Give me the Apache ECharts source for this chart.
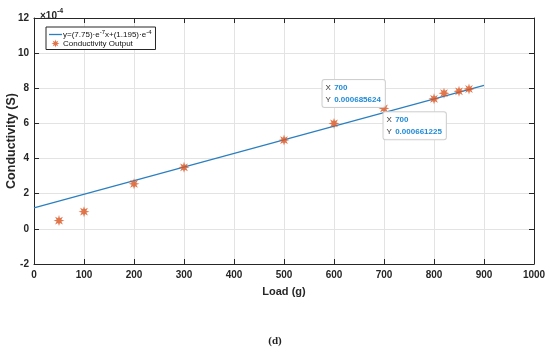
<!DOCTYPE html>
<html><head><meta charset="utf-8">
<script src="https://cdn.jsdelivr.net/npm/echarts@6/dist/echarts.min.js"></script>
<style>html,body{margin:0;padding:0;background:#fff}#c{width:550px;height:357px}</style>
</head><body><div id="c"></div>
<script>
// Data (conductivity in units of 1e-4 S)
var loads = [50, 100, 200, 300, 500, 600, 700, 800, 820, 850, 870];
var conductivity = [0.47, 0.98, 2.56, 3.5, 5.05, 6.0, 6.856, 7.4, 7.72, 7.83, 7.96];
var fitX = [0, 900];
var fitY = [1.195, 8.17];
var tipX = [700, 700];
var tipY = [0.000685624, 0.000661225];
var xTicks = [0, 100, 200, 300, 400, 500, 600, 700, 800, 900, 1000];
var yTicks = [-2, 0, 2, 4, 6, 8, 10, 12];
var fitName = 'y=(7.75)·e-7x+(1.195)·e-4';
var scatterName = 'Conductivity Output';

// asterisk-like burst symbol
function burst() {
  var pts = [], n = 8, R = 10, r = 4.6;
  for (var i = 0; i < n * 2; i++) {
    var a = Math.PI * i / n - Math.PI / 2;
    var rad = i % 2 === 0 ? R : r;
    pts.push((10 + rad * Math.cos(a)).toFixed(2) + ',' + (10 + rad * Math.sin(a)).toFixed(2));
  }
  return 'path://M' + pts.join('L') + 'Z';
}
var star = burst();
var FONT = 'Liberation Sans, Arial, sans-serif';
var AX = '#262626';

function tipLabel(xv, yv) {
  return '{k|X} {v|' + xv + '}\n{k|Y} {v|' + yv + '}';
}
var tipRich = {
  k: { color: '#333', fontSize: 8, fontFamily: FONT, lineHeight: 11 },
  v: { color: '#1f8ad6', fontSize: 8, fontWeight: 'bold', fontFamily: FONT, lineHeight: 11 }
};

var chart = echarts.init(document.getElementById('c'));
var axisCommon = {
  axisLine: { show: true, onZero: false, lineStyle: { color: AX, width: 1 } },
  axisTick: { show: true, inside: true, length: 5, lineStyle: { color: AX } }
};
chart.setOption({
  animation: false,
  backgroundColor: '#fff',
  grid: { left: 34, right: 16, top: 18, bottom: 93, containLabel: false, outerBoundsMode: 'none' },
  title: [{
    text: '(d)', left: 'center', top: 331,
    textStyle: { fontFamily: 'Liberation Serif, serif', fontWeight: 'bold', fontSize: 11, color: '#222' }
  }, {
    text: '{a|×10}{b|-4}', left: 35, top: 3,
    textStyle: { rich: {
      a: { fontFamily: FONT, fontSize: 10, color: AX, verticalAlign: 'bottom' },
      b: { fontFamily: FONT, fontSize: 7, color: AX, padding: [0, 0, 6, 0] }
    } }
  }],
  legend: {
    left: 46, top: 27, orient: 'vertical',
    backgroundColor: '#fff', borderColor: AX, borderWidth: 1, borderRadius: 0,
    padding: [2, 4, 2, 3], itemGap: 1, itemWidth: 13, itemHeight: 8,
    data: [{ name: fitName, icon: 'path://M0,0H13V1.3H0Z' }, { name: scatterName, icon: star }],
    formatter: function (n) {
      if (n === fitName) return '{n|y=(7.75)·e}{s|-7}{n|x+(1.195)·e}{s|-4}';
      return '{n|' + n + '}';
    },
    textStyle: { fontFamily: FONT, fontSize: 8, color: '#111', padding: [0, 0, 0, -4], rich: {
      n: { fontFamily: FONT, fontSize: 8, color: '#111' },
      s: { fontFamily: FONT, fontSize: 6, color: '#111', padding: [0, 0, 5, 0] }
    } }
  },
  xAxis: [Object.assign({
    type: 'value', min: 0, max: 1000, interval: 100, position: 'bottom',
    name: 'Load (g)', nameLocation: 'middle', nameGap: 22, nameMoveOverlap: false,
    nameTextStyle: { fontFamily: FONT, fontWeight: 'bold', fontSize: 11, color: AX },
    axisLabel: { fontFamily: FONT, fontWeight: 'bold', fontSize: 10, color: AX, margin: 6,
      formatter: function (v) { return String(v); } },
    splitLine: { show: true, lineStyle: { color: '#e3e3e3' } }
  }, axisCommon), Object.assign({
    type: 'value', min: 0, max: 1000, interval: 100, position: 'top',
    axisLabel: { show: false }, splitLine: { show: false }
  }, axisCommon)],
  yAxis: [Object.assign({
    type: 'value', min: -2, max: 12, interval: 2, position: 'left',
    name: 'Conductivity (S)', nameLocation: 'middle', nameGap: 16, nameMoveOverlap: false,
    nameTextStyle: { fontFamily: FONT, fontWeight: 'bold', fontSize: 12.5, color: AX },
    axisLabel: { fontFamily: FONT, fontWeight: 'bold', fontSize: 10, color: AX, margin: 5 },
    splitLine: { show: true, lineStyle: { color: '#e3e3e3' } }
  }, axisCommon), Object.assign({
    type: 'value', min: -2, max: 12, interval: 2, position: 'right',
    axisLabel: { show: false }, splitLine: { show: false }
  }, axisCommon)],
  series: [{
    name: fitName, type: 'line', symbol: 'none',
    data: fitX.map(function (x, i) { return [x, fitY[i]]; }),
    lineStyle: { color: '#2a7fc0', width: 1.2 }, itemStyle: { color: '#2a7fc0' },
    z: 2,
    markPoint: {
      silent: true, symbol: 'circle', symbolSize: 1, itemStyle: { color: 'rgba(0,0,0,0)' },
      data: [{
        coord: [tipX[1], tipY[1] * 1e4],
        label: { show: true, position: [0, 0], align: 'left', verticalAlign: 'top',
          formatter: tipLabel(tipX[1], tipY[1]), rich: tipRich,
          backgroundColor: 'rgba(255,255,255,0.92)', borderColor: '#cfcfcf', borderWidth: 1,
          borderRadius: 2, padding: [2, 4, 1, 3] }
      }]
    }
  }, {
    name: scatterName, type: 'scatter', symbol: star, symbolSize: 11,
    data: loads.map(function (x, i) { return [x, conductivity[i]]; }),
    itemStyle: { color: '#d9531e' }, z: 3,
    markPoint: {
      silent: true, symbol: 'circle', symbolSize: 1, itemStyle: { color: 'rgba(0,0,0,0)' },
      data: [{
        coord: [tipX[0], tipY[0] * 1e4],
        label: { show: true, position: [0, 0], align: 'left', verticalAlign: 'bottom', offset: [-61, -1],
          formatter: tipLabel(tipX[0], tipY[0]), rich: tipRich,
          backgroundColor: 'rgba(255,255,255,0.92)', borderColor: '#cfcfcf', borderWidth: 1,
          borderRadius: 2, padding: [2, 4, 1, 3] }
      }]
    }
  }]
});
</script></body></html>
